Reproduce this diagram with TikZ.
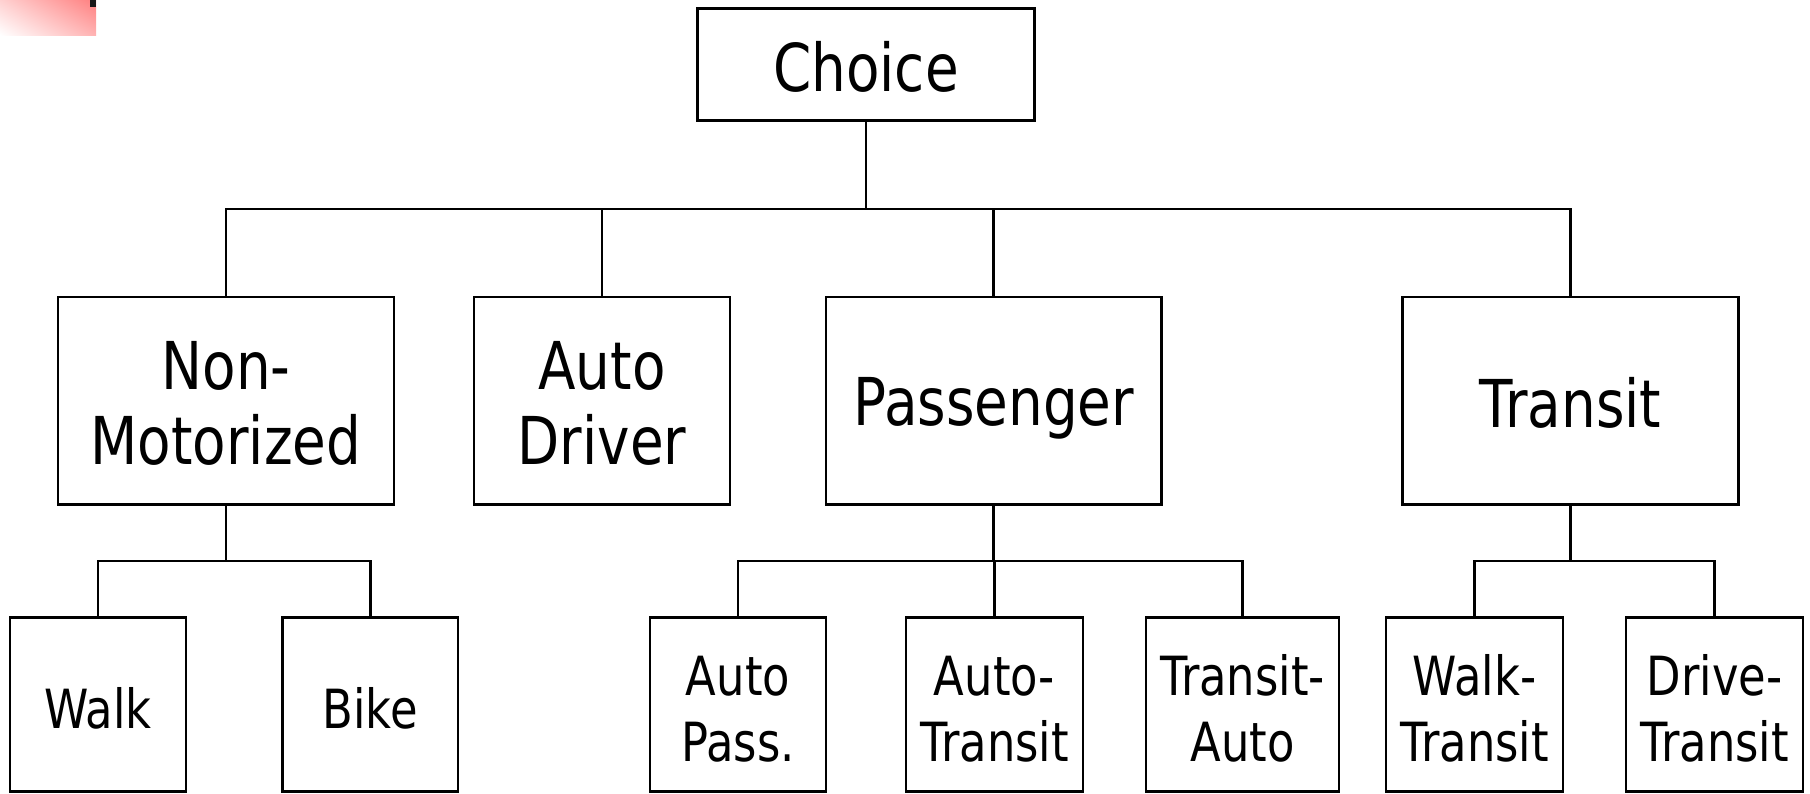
\documentclass[tikz,border=0pt]{standalone}
\usepackage{fontspec}
\setmainfont{DejaVu Sans}[FakeStretch=0.83]
\usetikzlibrary{shadings}
% line struts that fix each text line's height and depth
\newcommand{\bstr}{\rule[-5.45pt]{0pt}{37.5pt}}
\newcommand{\sstr}{\rule[-4.5pt]{0pt}{33pt}}
\begin{document}
\begin{tikzpicture}[x=0.5pt,y=-0.5pt,
  line width=1.4pt,
  box/.style={draw=black, line width=1.4pt, inner sep=0pt, align=center},
  big/.style={box, font=\fontsize{33}{37.5}\selectfont},
  small/.style={box, font=\fontsize{27}{33}\selectfont, minimum height=87pt},
  link/.style={draw=black, line width=1.4pt}]
\useasboundingbox (0,0) rectangle (1810,793);

% corner decoration
\shade[upper right=red!50, upper left=red!18, lower right=red!30, lower left=white]
  (0,0) rectangle (96,35);
\fill[black!90] (90,0) rectangle (96,7);

% root
\node[big, minimum width=168.25pt, minimum height=56pt] (choice) at (866,64.5) {\bstr Choice};

% second level
\node[big, minimum width=168pt, minimum height=103.75pt] (nonmot) at (226,400.75) {\bstr Non-\\\bstr Motorized};
\node[big, minimum width=128pt, minimum height=103.75pt] (autodrv) at (602,400.75) {\bstr Auto\\\bstr Driver};
\node[big, minimum width=167.75pt, minimum height=103.75pt] (pass) at (993.75,400.75) {\bstr Passenger};
\node[big, minimum width=168pt, minimum height=103.75pt] (transit) at (1570.5,400.75) {\bstr Transit};

% third level
\node[small, minimum width=88pt] (walk) at (98,704.5) {\sstr Walk};
\node[small, minimum width=87.75pt] (bike) at (370.25,704.5) {\sstr Bike};
\node[small, minimum width=88pt] (autopass) at (738,704.5) {\sstr Auto\\\sstr Pass.};
\node[small, minimum width=88.5pt] (autotr) at (994.5,704.5) {\sstr Auto-\\\sstr Transit};
\node[small, minimum width=96.5pt] (trauto) at (1242.5,704.5) {\sstr Transit-\\\sstr Auto};
\node[small, minimum width=88.5pt] (walktr) at (1474.5,704.5) {\sstr Walk-\\\sstr Transit};
\node[small, minimum width=88.5pt] (drivetr) at (1714.5,704.5) {\sstr Drive-\\\sstr Transit};

% junction points of the buses
\coordinate (j0) at (866,209);
\coordinate (j1) at (226,561);
\coordinate (j2) at (993.75,561);
\coordinate (j3) at (1570.5,561);

% root to second level
\draw[link] (choice.south) -- (j0);
\draw[link] (nonmot.north) |- (j0) -| (transit.north);
\draw[link] (autodrv.north) -- (autodrv.north |- j0);
\draw[link] (pass.north) -- (pass.north |- j0);

% non-motorized branch
\draw[link] (nonmot.south) -- (j1);
\draw[link] (walk.north) |- (j1) -| (bike.north);

% passenger branch
\draw[link] (pass.south) -- (j2);
\draw[link] (autopass.north) |- (j2) -| (trauto.north);
\draw[link] (autotr.north) -- (autotr.north |- j2);

% transit branch
\draw[link] (transit.south) -- (j3);
\draw[link] (walktr.north) |- (j3) -| (drivetr.north);
\end{tikzpicture}
\end{document}
